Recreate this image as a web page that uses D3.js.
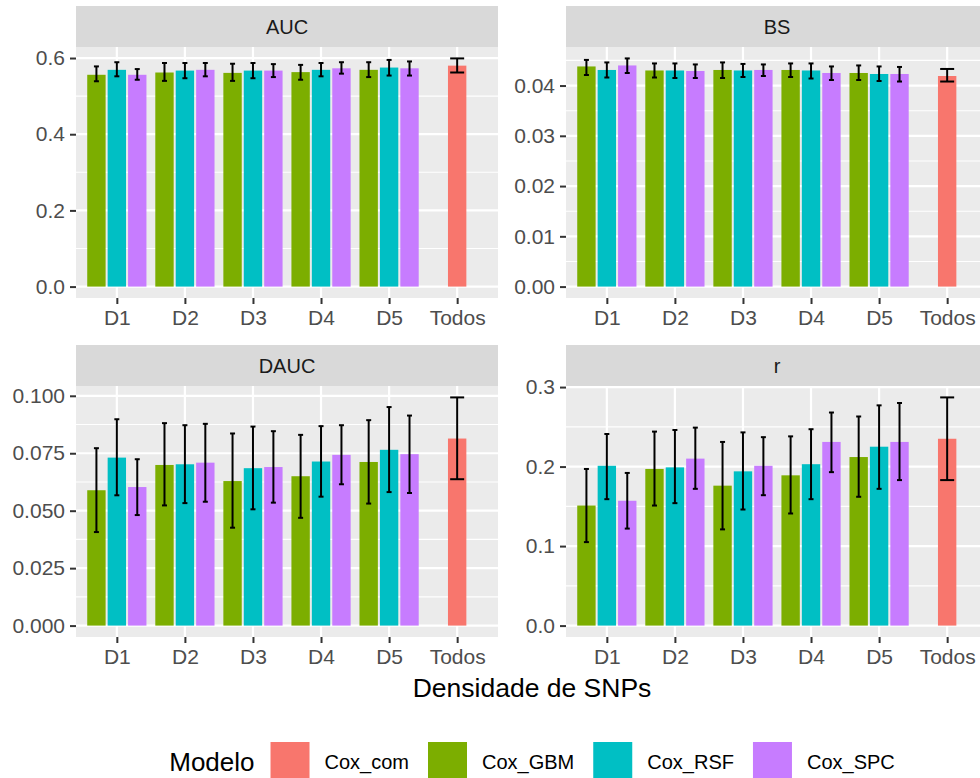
<!DOCTYPE html>
<html>
<head>
<meta charset="utf-8">
<script src="https://cdn.jsdelivr.net/npm/d3@7"></script>
<style>
  body { margin: 0; background: #fff; }
  svg { display: block; font-family: "Liberation Sans", Arial, sans-serif; }
</style>
</head>
<body>
<svg id="chart" width="980" height="778"></svg>
<script>
// categories and models
const categories = ["D1", "D2", "D3", "D4", "D5", "Todos"];
const models = ["Cox_com", "Cox_GBM", "Cox_RSF", "Cox_SPC"];
const colors = ["#F8766D", "#7CAE00", "#00BFC4", "#C77CFF"];

// each entry: [mean, lower, upper]; Cox_com only at "Todos", others D1..D5
const aucCom = [[0.580, 0.562, 0.599]];
const aucGBM = [[0.556, 0.539, 0.578], [0.562, 0.540, 0.587], [0.561, 0.540, 0.585], [0.563, 0.543, 0.582], [0.569, 0.550, 0.589]];
const aucRSF = [[0.569, 0.552, 0.589], [0.567, 0.547, 0.587], [0.567, 0.547, 0.587], [0.569, 0.552, 0.587], [0.575, 0.554, 0.595]];
const aucSPC = [[0.556, 0.543, 0.571], [0.569, 0.552, 0.587], [0.567, 0.550, 0.584], [0.573, 0.559, 0.589], [0.573, 0.554, 0.591]];

const bsCom = [[0.0419, 0.0408, 0.0433]];
const bsGBM = [[0.0438, 0.0421, 0.0451], [0.0430, 0.0416, 0.0444], [0.0431, 0.0415, 0.0446], [0.0431, 0.0417, 0.0444], [0.0425, 0.0411, 0.0440]];
const bsRSF = [[0.0431, 0.0416, 0.0446], [0.0430, 0.0415, 0.0444], [0.0430, 0.0417, 0.0443], [0.0430, 0.0414, 0.0444], [0.0423, 0.0409, 0.0438]];
const bsSPC = [[0.0440, 0.0425, 0.0454], [0.0429, 0.0415, 0.0442], [0.0431, 0.0419, 0.0442], [0.0425, 0.0411, 0.0438], [0.0423, 0.0408, 0.0437]];

const daucCom = [[0.0814, 0.0637, 0.0993]];
const daucGBM = [[0.0589, 0.0407, 0.0772], [0.0699, 0.0523, 0.0881], [0.0629, 0.0426, 0.0836], [0.0650, 0.0469, 0.0830], [0.0712, 0.0531, 0.0894]];
const daucRSF = [[0.0731, 0.0567, 0.0898], [0.0702, 0.0533, 0.0872], [0.0685, 0.0506, 0.0866], [0.0714, 0.0561, 0.0868], [0.0765, 0.0581, 0.0951]];
const daucSPC = [[0.0603, 0.0481, 0.0724], [0.0709, 0.0539, 0.0878], [0.0690, 0.0535, 0.0846], [0.0743, 0.0615, 0.0872], [0.0746, 0.0577, 0.0914]];

const rCom = [[0.235, 0.183, 0.287]];
const rGBM = [[0.151, 0.105, 0.197], [0.197, 0.151, 0.244], [0.176, 0.121, 0.231], [0.189, 0.141, 0.238], [0.212, 0.162, 0.263]];
const rRSF = [[0.201, 0.159, 0.241], [0.199, 0.154, 0.246], [0.194, 0.146, 0.243], [0.203, 0.159, 0.247], [0.225, 0.172, 0.277]];
const rSPC = [[0.157, 0.122, 0.192], [0.210, 0.172, 0.249], [0.201, 0.164, 0.237], [0.231, 0.193, 0.268], [0.231, 0.183, 0.280]];

// y tick labels per panel
const aucTicks = [0, 0.2, 0.4, 0.6];
const bsTicks = [0, 0.01, 0.02, 0.03, 0.04];
const daucTicks = [0, 0.025, 0.05, 0.075, 0.1];
const rTicks = [0, 0.1, 0.2, 0.3];

const panels = [
    { name: "AUC", series: [aucCom, aucGBM, aucRSF, aucSPC], ticks: aucTicks, fmt: ".1f", col: 0, row: 0 },
    { name: "BS", series: [bsCom, bsGBM, bsRSF, bsSPC], ticks: bsTicks, fmt: ".2f", col: 1, row: 0 },
    { name: "DAUC", series: [daucCom, daucGBM, daucRSF, daucSPC], ticks: daucTicks, fmt: ".3f", col: 0, row: 1 },
    { name: "r", series: [rCom, rGBM, rRSF, rSPC], ticks: rTicks, fmt: ".1f", col: 1, row: 1 }
];

// layout
const colX = [[76, 498], [566, 988]];
const rowY = [{ strip: 6, top: 47, bottom: 298 }, { strip: 345, top: 386, bottom: 637 }];

const svg = d3.select("#chart");

panels.forEach(p => {
    const [x0, x1] = colX[p.col];
    const r = rowY[p.row];
    const g = svg.append("g");

    // flatten into records
    const recs = [];
    p.series.forEach((s, mi) => {
        s.forEach((v, i) => {
            const cat = mi === 0 ? "Todos" : categories[i];
            recs.push({ model: models[mi], mi, cat, mean: v[0], lo: v[1], hi: v[2] });
        });
    });

    const x = d3.scalePoint().domain(categories).range([x0, x1]).padding(0.6);
    const maxV = d3.max(recs, d => d.hi);
    const y = d3.scaleLinear().domain([-0.05 * maxV, 1.05 * maxV]).range([r.bottom, r.top]);

    // panel background + strip
    g.append("rect").attr("x", x0).attr("y", r.top).attr("width", x1 - x0).attr("height", r.bottom - r.top).attr("fill", "#EBEBEB");
    g.append("rect").attr("x", x0).attr("y", r.strip).attr("width", x1 - x0).attr("height", r.top - r.strip).attr("fill", "#D9D9D9");
    g.append("text").attr("x", (x0 + x1) / 2).attr("y", (r.strip + r.top) / 2 + 7)
        .attr("text-anchor", "middle").attr("font-size", 20).attr("fill", "#1A1A1A").text(p.name);

    // grid
    const step = p.ticks[1] - p.ticks[0];
    const minor = d3.range(p.ticks[0] - step / 2, y.domain()[1], step).filter(v => v > y.domain()[0]);
    g.selectAll(".minor").data(minor).enter().append("line")
        .attr("x1", x0).attr("x2", x1).attr("y1", d => y(d)).attr("y2", d => y(d))
        .attr("stroke", "#fff").attr("stroke-width", 1.1);
    g.selectAll(".major").data(p.ticks).enter().append("line")
        .attr("x1", x0).attr("x2", x1).attr("y1", d => y(d)).attr("y2", d => y(d))
        .attr("stroke", "#fff").attr("stroke-width", 2.2);
    g.selectAll(".vgrid").data(categories).enter().append("line")
        .attr("x1", d => x(d)).attr("x2", d => x(d)).attr("y1", r.top).attr("y2", r.bottom)
        .attr("stroke", "#fff").attr("stroke-width", 2.2);

    // bars (dodge of 3 within 0.9 of the step, Todos single bar)
    const stride = x.step() * 0.9 / 3;
    const bw = stride * 0.9;
    const cx = d => d.cat === "Todos" ? x(d.cat) : x(d.cat) + (d.mi - 2) * stride;

    g.selectAll(".bar").data(recs).enter().append("rect")
        .attr("x", d => cx(d) - bw / 2).attr("width", bw)
        .attr("y", d => y(d.mean)).attr("height", d => y(0) - y(d.mean))
        .attr("fill", d => colors[d.mi]);

    // error bars
    const eb = g.selectAll(".err").data(recs).enter().append("g").attr("stroke", "#000").attr("stroke-width", 2);
    const cap = d => d.cat === "Todos" ? 7 : 2.5;
    eb.append("line").attr("x1", cx).attr("x2", cx).attr("y1", d => y(d.lo)).attr("y2", d => y(d.hi));
    eb.append("line").attr("x1", d => cx(d) - cap(d)).attr("x2", d => cx(d) + cap(d)).attr("y1", d => y(d.lo)).attr("y2", d => y(d.lo));
    eb.append("line").attr("x1", d => cx(d) - cap(d)).attr("x2", d => cx(d) + cap(d)).attr("y1", d => y(d.hi)).attr("y2", d => y(d.hi));

    // axes
    const yAxis = g.append("g").attr("transform", `translate(${x0},0)`)
        .call(d3.axisLeft(y).tickValues(p.ticks).tickFormat(d3.format(p.fmt)).tickSize(6).tickPadding(5));
    const xAxis = g.append("g").attr("transform", `translate(0,${r.bottom})`)
        .call(d3.axisBottom(x).tickSize(6).tickPadding(6));
    [yAxis, xAxis].forEach(a => {
        a.select(".domain").remove();
        a.selectAll(".tick line").attr("stroke", "#333").attr("stroke-width", 2);
        a.selectAll(".tick text").attr("fill", "#4D4D4D").attr("font-size", 21)
            .attr("font-family", "Liberation Sans, Arial, sans-serif");
    });
});

// x axis title
svg.append("text").attr("x", (colX[0][0] + colX[1][1]) / 2).attr("y", 697)
    .attr("text-anchor", "middle").attr("font-size", 26.5).attr("fill", "#000").text("Densidade de SNPs");

// legend
const leg = svg.append("g");
const keyY = 742, keySize = 39;
let lx = 0;
const title = leg.append("text").attr("x", lx).attr("y", keyY + keySize / 2 + 9)
    .attr("font-size", 26).attr("fill", "#000").text("Modelo");
lx += title.node().getComputedTextLength() + 16;
models.forEach((m, i) => {
    leg.append("rect").attr("x", lx).attr("y", keyY).attr("width", keySize).attr("height", keySize).attr("fill", colors[i]);
    lx += keySize + 15;
    const t = leg.append("text").attr("x", lx).attr("y", keyY + keySize / 2 + 7)
        .attr("font-size", 20).attr("fill", "#000").text(m);
    lx += t.node().getComputedTextLength() + 19;
});
lx -= 19;
leg.attr("transform", `translate(${(colX[0][0] + colX[1][1]) / 2 - lx / 2},0)`);
</script>
</body>
</html>
